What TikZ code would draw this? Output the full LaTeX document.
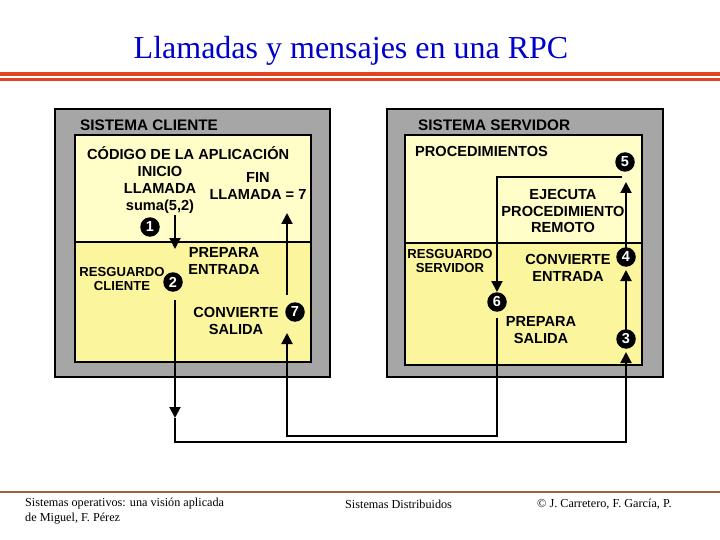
\documentclass[tikz,border=0pt]{standalone}
\usepackage{fontspec}
\setmainfont{Liberation Serif}
\newfontfamily\labelfont{Liberation Sans}
\usetikzlibrary{arrows.meta}
\definecolor{titleBlue}{RGB}{0,0,200}
\definecolor{rpcOrange}{RGB}{224,68,32}
\definecolor{rpcBrown}{RGB}{165,95,60}
\definecolor{boxGray}{RGB}{166,166,166}
\definecolor{paleYellow}{RGB}{255,253,200}
\definecolor{deepYellow}{RGB}{251,246,158}

\tikzset{
	lbl/.style={font=\labelfont\bfseries\fontsize{14.6}{16.8}\selectfont, align=center, inner sep=0pt},
	smalllbl/.style={lbl, font=\labelfont\bfseries\fontsize{13.1}{14.5}\selectfont},
	headlbl/.style={lbl, font=\labelfont\bfseries\fontsize{15.3}{16}\selectfont, anchor=west},
	stepnum/.style={circle, fill=black, text=white, minimum size=19.5pt, inner sep=0pt, font=\labelfont\bfseries\fontsize{14.5}{14.5}\selectfont},
	flow/.style={line width=2pt, -{Triangle[length=11pt,width=11pt]}},
	wire/.style={line width=2pt},
	foot/.style={font=\fontsize{12.2}{14}\selectfont, anchor=west, inner sep=0pt},
}

\begin{document}
\begin{tikzpicture}[x=1pt, y=-1pt]

	\useasboundingbox[fill=white] (0,0) rectangle (720,540);

	% title and rules
	\node[titleBlue, anchor=base, font=\fontsize{32}{32}\selectfont, inner sep=0pt] (title) at (351,59) {Llamadas y mensajes en una RPC};
	\fill[rpcOrange] (0,72) rectangle (720,76);
	\fill[rpcOrange] (0,78.5) rectangle (720,81.5);
	\draw[rpcBrown, line width=1.5pt] (0,492) -- (720,492);

	% client system
	\filldraw[fill=boxGray, draw=black, line width=2pt] (55,109) rectangle (330,377);
	\fill[paleYellow] (75,135) rectangle (311,242);
	\fill[deepYellow] (75,242) rectangle (311,362);
	\draw[line width=2pt] (75,135) rectangle (311,362);
	\draw[line width=2pt] (75,242) -- (311,242);

	% server system
	\filldraw[fill=boxGray, draw=black, line width=2pt] (387,109) rectangle (663,377);
	\fill[paleYellow] (405,135) rectangle (642,243);
	\fill[deepYellow] (405,243) rectangle (642,365);
	\draw[line width=2pt] (405,135) rectangle (642,365);
	\draw[line width=2pt] (405,243) -- (642,243);

	% labels
	\node[headlbl] (cliHead) at (80,125) {SISTEMA CLIENTE};
	\node[headlbl] (srvHead) at (418,125) {SISTEMA SERVIDOR};
	\node[lbl, anchor=west] (appCode) at (87,153) {CÓDIGO DE LA APLICACIÓN};
	\node[lbl] (callStart) at (160,190) {INICIO\\LLAMADA\\suma(5,2)};
	\node[lbl] (callEnd) at (258,186) {FIN\\LLAMADA = 7};
	\node[lbl] (prepIn) at (224,261) {PREPARA\\ENTRADA};
	\node[smalllbl] (cliStub) at (122,279) {RESGUARDO\\CLIENTE};
	\node[lbl] (convOut) at (236,321) {CONVIERTE\\SALIDA};
	\node[lbl, anchor=west] (procs) at (415,151) {PROCEDIMIENTOS};
	\node[lbl] (runProc) at (563,211) {EJECUTA\\PROCEDIMIENTO\\REMOTO};
	\node[smalllbl] (srvStub) at (450,261) {RESGUARDO\\SERVIDOR};
	\node[lbl] (convIn) at (568,268) {CONVIERTE\\ENTRADA};
	\node[lbl] (prepOut) at (541,330) {PREPARA\\SALIDA};

	% connector ends
	\coordinate (c1s) at (175,215);
	\coordinate (c1e) at (175,249);
	\coordinate (cliOut) at (175,300);
	\coordinate (cliMid) at (175,418);
	\coordinate (loopA) at (175,442);
	\coordinate (loopB) at (626,442);
	\coordinate (srvIn) at (626,352);
	\coordinate (c4e) at (626,270);
	\coordinate (c5e) at (626,182);
	\coordinate (retA) at (622,177);
	\coordinate (retB) at (497,177);
	\coordinate (c6e) at (497,292);
	\coordinate (srvOut) at (497,318);
	\coordinate (backA) at (497,436);
	\coordinate (backB) at (287,436);
	\coordinate (cliIn) at (287,333);
	\coordinate (c7s) at (287,295);
	\coordinate (c7e) at (287,213);

	% connectors
	\draw[flow] (c1s) -- (c1e);
	\draw[flow] (cliOut) -- (cliMid);
	\draw[flow] (cliMid) -- (loopA) -- (loopB) -- (srvIn);
	\draw[flow] (srvIn) ++(0,-13) coordinate (s3top) (s3top) -- (c4e);
	\draw[flow] (626,248) -- (c5e);
	\draw[flow] (retA) -- (retB) -- (c6e);
	\draw[flow] (srvOut) -- (backA) -- (backB) -- (cliIn);
	\draw[flow] (c7s) -- (c7e);

	% step numbers
	\node[stepnum] (n1) at (150,227) {1};
	\node[stepnum] (n2) at (173,282) {2};
	\node[stepnum] (n3) at (626,339) {3};
	\node[stepnum] (n4) at (626,257) {4};
	\node[stepnum] (n5) at (625,162) {5};
	\node[stepnum] (n6) at (497,302) {6};
	\node[stepnum] (n7) at (295,312) {7};

	% footer
	\node[foot] (foot1) at (25,504) {Sistemas operativos: una visión aplicada};
	\node[foot] (foot2) at (25,519) {de Miguel, F. Pérez};
	\node[foot] (foot3) at (345,504) {Sistemas Distribuidos};
	\node[foot] (foot4) at (537,504) {© J. Carretero, F. García, P.};

\end{tikzpicture}
\end{document}
